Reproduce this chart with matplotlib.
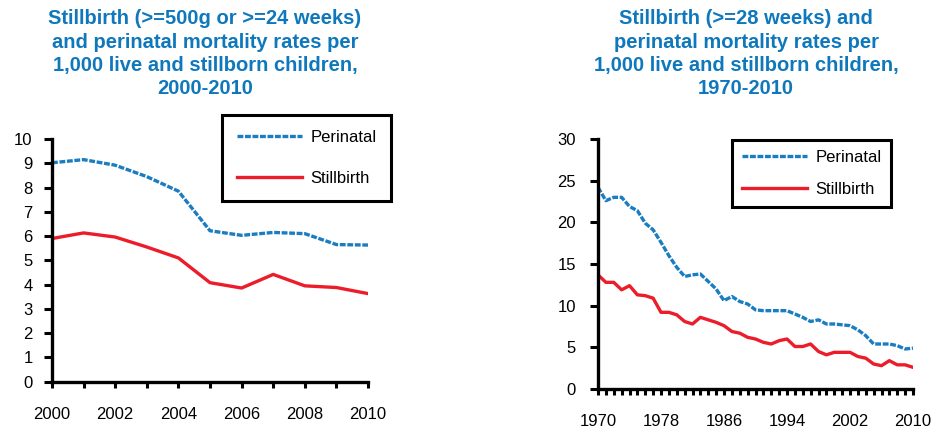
"Stillbirth and perinatal mortality rates"

import matplotlib
matplotlib.use("Agg")
import matplotlib.pyplot as plt
from matplotlib.ticker import MultipleLocator, FixedLocator

plt.rcParams['font.family'] = ['Liberation Sans', 'DejaVu Sans']
plt.rcParams['lines.scale_dashes'] = False

# Left chart: 2000-2010 (>=500g or >=24 weeks)
years_a = list(range(2000, 2011))
perinatal_a = [9.02, 9.15, 8.92, 8.45, 7.85, 6.22, 6.03, 6.15, 6.1, 5.65, 5.63]
stillbirth_a = [5.9, 6.13, 5.96, 5.55, 5.1, 4.08, 3.86, 4.42, 3.95, 3.88, 3.63]

# Right chart: 1970-2010 (>=28 weeks)
years_b = list(range(1970, 2011))
perinatal_b = [24.2, 22.6, 23.0, 23.0, 21.9, 21.4, 19.9, 19.1, 17.6, 16.0,
               14.6, 13.5, 13.7, 13.8, 12.9, 12.0, 10.6, 11.1, 10.5, 10.2,
               9.5, 9.4, 9.4, 9.4, 9.4, 9.0, 8.6, 8.1, 8.3, 7.8,
               7.8, 7.7, 7.6, 7.1, 6.4, 5.4, 5.4, 5.4, 5.2, 4.8, 4.9]
stillbirth_b = [13.7, 12.8, 12.8, 11.9, 12.4, 11.3, 11.2, 10.9, 9.2, 9.2,
                8.9, 8.1, 7.8, 8.6, 8.3, 8.0, 7.6, 6.9, 6.7, 6.2,
                6.0, 5.6, 5.4, 5.8, 6.0, 5.1, 5.1, 5.4, 4.5, 4.1,
                4.4, 4.4, 4.4, 3.9, 3.7, 3.0, 2.8, 3.4, 2.9, 2.9, 2.6]
xlabels_b = [1970, 1978, 1986, 1994, 2002, 2010]

title_a = ("Stillbirth (>=500g or >=24 weeks)\nand perinatal mortality rates per\n"
           "1,000 live and stillborn children,\n2000-2010")
title_b = ("Stillbirth (>=28 weeks) and\nperinatal mortality rates per\n"
           "1,000 live and stillborn children,\n1970-2010")

BLUE = '#1a7dc2'
RED = '#ec1c2a'
TITLE = '#0f78bd'
W, H = 932, 430

fig = plt.figure(figsize=(W / 100, H / 100), dpi=100)


def fx(px):
    return px / W


def fy(py):
    return 1 - py / H


def style_axes(ax, xpad, ypad):
    for s in ['top', 'right']:
        ax.spines[s].set_visible(False)
    for s in ['left', 'bottom']:
        ax.spines[s].set_linewidth(2.4)
    ax.tick_params(axis='y', which='both', direction='out', length=6, width=2.2,
                   labelsize=12, pad=ypad)
    ax.tick_params(axis='x', which='both', direction='out', length=4, width=2.2,
                   labelsize=12, pad=xpad)


def draw(ax, years, per, still):
    ax.plot(years, per, color=BLUE, lw=2.4, dashes=(4.2, 1.2), label='Perinatal',
            solid_capstyle='butt', dash_capstyle='butt')
    ax.plot(years, still, color=RED, lw=2.4, label='Stillbirth')


# left chart
ax1 = fig.add_axes([fx(52), fy(381.7), fx(368 - 52), (381.7 - 139) / H])
draw(ax1, years_a, perinatal_a, stillbirth_a)
ax1.set_xlim(2000, 2010)
ax1.set_ylim(0, 10)
ax1.yaxis.set_major_locator(MultipleLocator(1))
ax1.xaxis.set_major_locator(MultipleLocator(2))
ax1.xaxis.set_minor_locator(MultipleLocator(1))
style_axes(ax1, 14, 8)
leg1 = ax1.legend(loc='upper left', bbox_to_anchor=(fx(222), fy(115)),
                  bbox_transform=fig.transFigure, borderaxespad=0, fontsize=12,
                  handlelength=3.9, handletextpad=0.5, labelspacing=1.55,
                  borderpad=0.9, fancybox=False, framealpha=1, edgecolor='black')
leg1.get_frame().set_linewidth(2.2)

# right chart
ax2 = fig.add_axes([fx(598), fy(389), fx(913 - 598), (389 - 139) / H])
draw(ax2, years_b, perinatal_b, stillbirth_b)
ax2.set_xlim(1970, 2010)
ax2.set_ylim(0, 30)
ax2.yaxis.set_major_locator(MultipleLocator(5))
ax2.xaxis.set_major_locator(FixedLocator(xlabels_b))
ax2.xaxis.set_minor_locator(MultipleLocator(1))
style_axes(ax2, 14, 10)
leg2 = ax2.legend(loc='upper left', bbox_to_anchor=(fx(732), fy(140)),
                  bbox_transform=fig.transFigure, borderaxespad=0, fontsize=12,
                  handlelength=3.9, handletextpad=0.5, labelspacing=1.0,
                  borderpad=0.6, fancybox=False, framealpha=1, edgecolor='black')
leg2.get_frame().set_linewidth(2.2)

# titles
fig.text(fx(205), fy(9), title_a, ha='center', va='top', ma='center',
         fontsize=14.5, fontweight='bold', color=TITLE, linespacing=1.3)
fig.text(fx(746), fy(9), title_b, ha='center', va='top', ma='center',
         fontsize=14.5, fontweight='bold', color=TITLE, linespacing=1.3)

fig.savefig('out.png', dpi=100)
